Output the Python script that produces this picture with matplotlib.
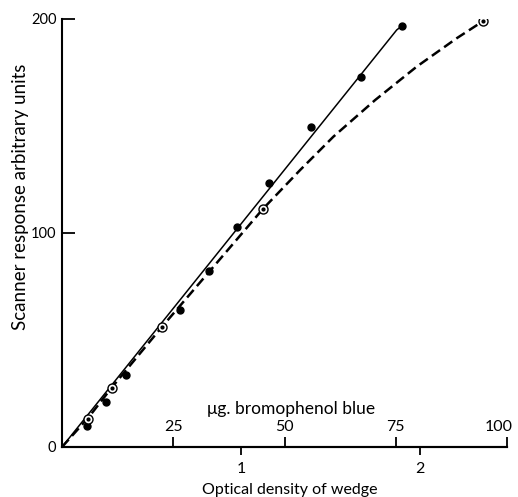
import matplotlib
matplotlib.use('Agg')
import matplotlib.pyplot as plt
from matplotlib.transforms import ScaledTranslation

plt.rcParams['font.family'] = ['Lato', 'DejaVu Sans']

# filled points (solid line), optical density vs scanner response
od_filled = [0.138, 0.244, 0.356, 0.659, 0.823, 0.979, 1.156, 1.391, 1.670, 1.898]
resp_filled = [9.8, 20.9, 33.6, 64.0, 82.4, 102.6, 123.5, 149.7, 172.8, 196.7]

# open circles (dashed curve)
od_open = [0.147, 0.278, 0.560, 1.123, 2.354]
resp_open = [13.1, 27.8, 56.3, 111.3, 199.1]

# solid fitted line
solid_x = [0.0, 1.870, 1.898]
solid_y = [0.0, 194.9, 196.7]

# dashed curve
dash_x = [0.0, 0.15, 0.28, 0.56, 0.85, 1.123, 1.33, 1.516, 1.749, 1.981, 2.205, 2.354]
dash_y = [0.0, 14.0, 28.0, 56.3, 84.6, 111.3, 129.4, 145.0, 162.1, 177.7, 191.0, 199.1]

od_max = 2.486
ug_max = 100.0
od_ticks = [1, 2]
ug_ticks = [25, 50, 75, 100]
y_ticks = [0, 100, 200]

fig = plt.figure(figsize=(5.18, 4.97), dpi=100)
ax = fig.add_axes([62/518, 50/497, 445/518, 428/497])

ax.plot(solid_x, solid_y, color='black', lw=1.1)
ax.plot(dash_x, dash_y, color='black', lw=1.8, dashes=(4, 2))
ax.plot(od_filled, resp_filled, 'o', color='black', ms=5, zorder=5)
ax.plot(od_open, resp_open, 'o', mfc='white', mec='black', mew=1.0, ms=6.5, zorder=5)
ax.plot(od_open, resp_open, 'o', color='black', ms=2, zorder=6)

ax.set_xlim(0, od_max)
ax.set_ylim(0, 200)
ax.spines['top'].set_visible(False)
ax.spines['right'].set_visible(False)
ax.spines['left'].set_linewidth(1.5)
ax.spines['bottom'].set_linewidth(1.5)

ax.set_xticks(od_ticks)
ax.set_xticklabels([str(t) for t in od_ticks])
ax.set_yticks(y_ticks)
ax.tick_params(axis='x', direction='out', length=6, width=1.3, pad=5, labelsize=11.5)
ax.tick_params(axis='y', direction='in', length=9, width=1.3, pad=4, labelsize=10.5)

ax.set_xlabel('Optical density of wedge', fontsize=11.5)
ax.xaxis.set_label_coords(0.512, -0.084)
ax.set_ylabel('Scanner response arbitrary units', fontsize=13.5, va='center')
ax.yaxis.set_label_coords(-0.094, 0.584)

sec = ax.secondary_xaxis(0.0, functions=(lambda v: v * ug_max / od_max,
                                         lambda v: v * od_max / ug_max))
sec.set_alignment('top')
sec.set_xticks(ug_ticks)
sec.set_xticklabels([str(t) for t in ug_ticks])
sec.tick_params(direction='out', length=7, width=1.3, pad=2, labelsize=11.5)
sec.spines['top'].set_linewidth(1.5)
sec.set_xlabel('μg. bromophenol blue', fontsize=12.5, labelpad=5)
sec.xaxis.label.set_x(0.515)

# keep the last top label inside the figure
last = sec.get_xticklabels()[-1]
last.set_ha('right')
last.set_transform(last.get_transform() + ScaledTranslation(6/100, 0, fig.dpi_scale_trans))

fig.savefig('out.png', dpi=100)
